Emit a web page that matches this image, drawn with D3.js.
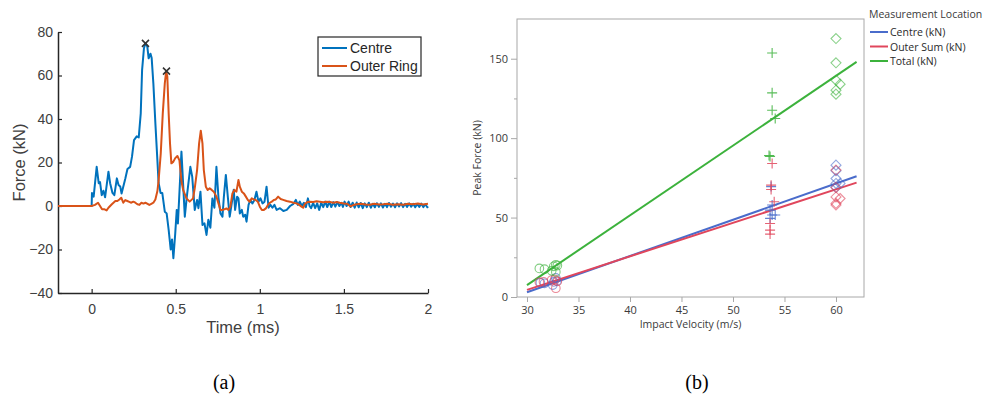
<!DOCTYPE html>
<html>
<head>
<meta charset="utf-8">
<script src="https://cdn.jsdelivr.net/npm/d3@7"></script>
<style>
  body { margin: 0; background: #fff; }
  svg { display: block; }
</style>
</head>
<body>
<svg id="fig" width="984" height="399"></svg>
<script>
// ---- (a) force traces, [time ms, force kN] ----
const centre = [
  [-0.2,0],[0,0],[0.002,6],[0.012,4.3],[0.03,18],[0.042,10.5],[0.05,11],[0.06,5],[0.07,7],[0.08,4],
  [0.1,15.8],[0.11,10.5],[0.124,6],[0.135,5],[0.15,12.7],[0.16,9.7],[0.17,9],[0.178,5.7],[0.2,12.5],
  [0.213,17],[0.229,18],[0.24,22.7],[0.252,30.3],[0.268,32],[0.28,31.5],[0.292,42.6],[0.3,62.5],
  [0.311,72.5],[0.32,74.8],[0.331,73.3],[0.339,67.9],[0.35,70],[0.357,68],[0.367,56.4],[0.379,38],
  [0.391,21],[0.398,10.7],[0.41,6],[0.42,6],[0.435,-2.6],[0.446,-3.4],[0.458,-11],[0.47,-20],
  [0.478,-15.4],[0.486,-24],[0.497,-12.7],[0.506,-1.8],[0.513,-8],[0.534,25],[0.554,-4.9],[0.566,4.3],
  [0.587,18],[0.598,13.5],[0.613,-1.8],[0.627,2.8],[0.635,-1],[0.647,6.6],[0.659,-8.7],[0.671,-8],
  [0.683,-13.3],[0.694,-6.3],[0.706,-10],[0.718,3.5],[0.73,-0.8],[0.742,18],[0.754,4],[0.766,-3.4],
  [0.778,-4.9],[0.786,4],[0.798,14.3],[0.81,4],[0.821,-4.9],[0.833,1.2],[0.845,7.5],[0.853,-1.8],
  [0.865,4.3],[0.873,3.5],[0.881,-3.4],[0.893,-1.8],[0.901,-4.9],[0.913,-4],[0.921,-7.2],[0.933,0.5],
  [0.944,2.8],[0.956,1.2],[0.968,2.8],[0.98,6.6],[0.992,2],[1.004,3.5],[1.016,1.2],[1.028,2],
  [1.04,8.9],[1.052,-0.8],[1.063,0.5],[1.075,-0.8],[1.087,0.5],[1.1,-1.8],[1.12,-1],[1.14,-2.3],
  [1.16,-1.8],[1.18,0],[1.2,1],[1.214,2.8],[1.226,0.5],[1.238,2],[1.25,0],[1.262,1.5],[1.274,-0.5],
  [1.286,3.5],[1.296,0],[1.305,-1],[1.317,1.5],[1.329,-1],[1.341,1.2],[1.353,-1.8],[1.365,1.5],
  [1.377,-0.5],[1.389,2],[1.401,-0.5],[1.413,2],[1.425,-0.5],[1.437,1.8],[1.449,-0.3],[1.461,1.8],
  [1.473,0],[1.485,1.5],[1.494,-0.4],[1.504,2],[1.516,0],[1.528,2],[1.54,-0.5],[1.552,1.5],
  [1.564,-0.8],[1.576,1.6],[1.588,-0.6],[1.6,1.4],[1.612,-1],[1.624,1.2],[1.636,-0.5],[1.648,1.5],
  [1.66,-0.8],[1.672,1],[1.684,-0.6],[1.696,1.3],[1.708,-0.4],[1.72,1.2],[1.732,-0.7],[1.744,1],
  [1.756,-0.5],[1.768,1.4],[1.78,-0.3],[1.792,1.1],[1.804,-0.6],[1.816,1.2],[1.828,-0.2],[1.84,1.3],
  [1.852,-0.5],[1.864,1],[1.876,-0.4],[1.888,1.2],[1.9,-0.3],[1.912,1],[1.924,-0.6],[1.936,0.9],
  [1.948,-0.4],[1.96,1.1],[1.972,-0.5],[1.984,0.8],[1.996,-0.6],[2,-0.2]
];

const outerRing = [
  [-0.2,0],[0,0],[0.02,0.5],[0.038,1.5],[0.05,0],[0.062,-1.5],[0.077,-1.5],[0.089,-2],[0.1,-0.8],
  [0.11,0],[0.12,0.8],[0.141,2.3],[0.153,2.3],[0.165,3],[0.176,3.8],[0.188,1.5],[0.2,2.7],[0.212,2.3],
  [0.224,1.9],[0.236,1.5],[0.248,2],[0.26,1.5],[0.272,0.8],[0.284,0.5],[0.296,1.5],[0.308,1.1],
  [0.32,1.5],[0.33,1.1],[0.343,0.5],[0.355,1],[0.367,1.5],[0.379,3],[0.391,6.9],[0.398,11.5],
  [0.411,24.2],[0.423,42.6],[0.435,56.4],[0.443,61.8],[0.45,59.5],[0.458,42.6],[0.466,28.8],
  [0.474,19.6],[0.486,20.4],[0.497,22],[0.51,23],[0.522,21],[0.534,11.5],[0.544,7.4],[0.564,3.5],
  [0.583,2],[0.603,3.5],[0.613,8.1],[0.627,16.5],[0.639,28.8],[0.649,34.6],[0.659,28.8],[0.667,16.5],
  [0.679,8.9],[0.69,7.4],[0.702,8.1],[0.714,7.4],[0.726,6.6],[0.742,4.3],[0.754,1.2],[0.766,-1.8],
  [0.778,-1.8],[0.79,-1.5],[0.802,-1.1],[0.813,-1.8],[0.825,-0.3],[0.837,5.8],[0.849,7.4],[0.861,6.6],
  [0.873,12],[0.881,8.9],[0.893,6.6],[0.905,5.8],[0.917,4.3],[0.929,2.8],[0.94,2],[0.952,3.5],
  [0.964,3],[0.976,2.8],[0.988,2],[1,-0.3],[1.012,-1.8],[1.024,-1.8],[1.036,-1.1],[1.048,0.5],
  [1.06,1.5],[1.071,2],[1.083,2.8],[1.095,3],[1.109,4.3],[1.124,3.2],[1.139,2.8],[1.159,2.3],
  [1.179,2],[1.2,1.5],[1.218,1.2],[1.235,0.5],[1.248,-0.3],[1.258,-0.8],[1.268,1],[1.283,1.8],
  [1.298,2],[1.318,1.8],[1.337,2.2],[1.357,2],[1.377,1.7],[1.397,2],[1.417,1.8],[1.437,1.5],
  [1.457,1.8],[1.476,1.5],[1.5,1.2],[1.52,1],[1.54,-0.2],[1.558,0.5],[1.575,0.8],[1.6,1],[1.63,0.7],
  [1.655,0.6],[1.68,1],[1.71,0.7],[1.734,0.8],[1.76,1],[1.79,0.6],[1.82,0.8],[1.853,0.6],[1.88,1],
  [1.91,0.8],[1.94,1.1],[1.97,0.7],[2,1]
];

const peaks = [[0.32, 74.8], [0.445, 62]];
const timeTicks = [0, 0.5, 1, 1.5, 2];
const forceTicks = [-40, -20, 0, 20, 40, 60, 80];

// ---- (b) peak force vs impact velocity, [m/s, kN] ----
const series = ['Centre (kN)', 'Outer Sum (kN)', 'Total (kN)'];
const seriesColors = ['#4a6ccb', '#e0465c', '#3cb23c'];

const circleData = [
  [[31.3,9],[31.7,8.6],[32.5,7.5],[32.8,12],[32.9,10],[32.6,9.5]],
  [[31.2,9.3],[31.6,9.6],[32.4,10.7],[32.7,11],[32.8,5.5],[32.95,9.8]],
  [[31.2,18],[31.7,17.5],[32.4,16.5],[32.8,15.8],[32.6,19.3],[32.8,20.3],[32.95,19.8]]
];
const plusData = [
  [[53.7,69.5],[53.8,57.9],[53.6,54.7],[53.8,51.6],[54.1,51.6],[53.6,49.5]],
  [[53.8,84],[53.7,70.4],[53.7,67.7],[54.0,60],[53.6,46.3],[53.6,42.1],[53.6,39.6]],
  [[53.8,153.6],[53.8,128.5],[53.8,117.6],[54.1,112.4],[53.5,89],[53.6,88.5]]
];
const diamondData = [
  [[60,83],[60,79.5],[60,74.6],[60,71.5],[60.4,71.5],[60,69]],
  [[60,79.9],[60,69],[60,63],[60.4,62],[60,58.9],[60,57.9]],
  [[60,162.7],[60,147.4],[60,136.5],[60.4,134],[60,130.2],[60,127.7]]
];
const fitVelocity = [30, 62];
const fitForce = [[3, 76], [4.5, 72], [7.5, 148]];
const velTicks = [30, 35, 40, 45, 50, 55, 60];
const peakTicks = [0, 50, 100, 150];
const peakMinor = [25, 75, 125];

const svg = d3.select('#fig');

// ================= panel (a) =================
const ax = d3.scaleLinear().domain([-0.2, 2]).range([58, 428]);
const ay = d3.scaleLinear().domain([-40, 80]).range([293, 32]);
const mFont = "'Liberation Sans', Arial, sans-serif";

const ga = svg.append('g');

const xa = ga.append('g')
  .attr('transform', `translate(0,${ay(-40)})`)
  .call(d3.axisBottom(ax).tickValues(timeTicks).tickFormat(d3.format('~g'))
    .tickSize(-4).tickSizeOuter(0).tickPadding(11));
const ya = ga.append('g')
  .attr('transform', `translate(${ax(-0.2)},0)`)
  .call(d3.axisLeft(ay).tickValues(forceTicks).tickSize(-4).tickSizeOuter(0).tickPadding(5));

[xa, ya].forEach(g => {
  g.select('.domain').attr('stroke', '#262626').attr('stroke-width', 1.5);
  g.selectAll('.tick line').attr('stroke', '#262626').attr('stroke-width', 1.2);
  g.selectAll('.tick text').attr('fill', '#404040').style('font-family', mFont).style('font-size', '14px');
});

const line = d3.line().x(d => ax(d[0])).y(d => ay(d[1]));

ga.append('path').datum(centre)
  .attr('d', line).attr('fill', 'none').attr('stroke', '#0072bd').attr('stroke-width', 2)
  .attr('stroke-linejoin', 'round');
ga.append('path').datum(outerRing)
  .attr('d', line).attr('fill', 'none').attr('stroke', '#d95319').attr('stroke-width', 2)
  .attr('stroke-linejoin', 'round');

// peak markers
peaks.forEach(p => {
  const cx = ax(p[0]), cy = ay(p[1]);
  ga.append('path')
    .attr('d', `M${cx - 3.5},${cy - 3.5}L${cx + 3.5},${cy + 3.5}M${cx - 3.5},${cy + 3.5}L${cx + 3.5},${cy - 3.5}`)
    .attr('stroke', '#333').attr('stroke-width', 1.6);
});

ga.append('text')
  .attr('x', (ax(-0.2) + ax(2)) / 2).attr('y', 333)
  .attr('text-anchor', 'middle')
  .style('font-family', mFont).style('font-size', '16.5px').attr('fill', '#404040')
  .text('Time (ms)');
ga.append('text')
  .attr('transform', `translate(25,${(ay(-40) + ay(80)) / 2}) rotate(-90)`)
  .attr('text-anchor', 'middle')
  .style('font-family', mFont).style('font-size', '16.5px').attr('fill', '#404040')
  .text('Force (kN)');

// legend (a)
const lg = ga.append('g').attr('transform', 'translate(318,37)');
lg.append('rect').attr('width', 103).attr('height', 39)
  .attr('fill', '#fff').attr('stroke', '#262626').attr('stroke-width', 1.2);
[['Centre', '#0072bd'], ['Outer Ring', '#d95319']].forEach((d, i) => {
  const yy = 11 + i * 18;
  lg.append('line').attr('x1', 4).attr('x2', 29).attr('y1', yy).attr('y2', yy)
    .attr('stroke', d[1]).attr('stroke-width', 2);
  lg.append('text').attr('x', 32).attr('y', yy + 5)
    .style('font-family', mFont).style('font-size', '14px').attr('fill', '#262626')
    .text(d[0]);
});

// ================= panel (b) =================
const bx = d3.scaleLinear().domain([29.03, 62.72]).range([517, 864]);
const by = d3.scaleLinear().domain([0, 175]).range([297, 19]);
const bFont = "'Open Sans', 'Noto Sans', sans-serif";
const gb = svg.append('g');

gb.append('rect')
  .attr('x', bx.range()[0]).attr('y', by.range()[1])
  .attr('width', bx.range()[1] - bx.range()[0]).attr('height', by.range()[0] - by.range()[1])
  .attr('fill', 'none').attr('stroke', '#a8a8a8').attr('stroke-width', 1);

const xb = gb.append('g')
  .attr('transform', `translate(0,${by(0)})`)
  .call(d3.axisBottom(bx).tickValues(velTicks).tickSize(5).tickSizeOuter(0).tickPadding(4));
const yb = gb.append('g')
  .attr('transform', `translate(${bx.range()[0]},0)`)
  .call(d3.axisLeft(by).tickValues(peakTicks).tickSize(6).tickSizeOuter(0).tickPadding(3));
gb.append('g')
  .attr('transform', `translate(${bx.range()[0]},0)`)
  .call(d3.axisLeft(by).tickValues(peakMinor).tickSize(3).tickFormat(''))
  .call(g => g.select('.domain').remove())
  .selectAll('.tick line').attr('stroke', '#a8a8a8');
[xb, yb].forEach(g => {
  g.select('.domain').remove();
  g.selectAll('.tick line').attr('stroke', '#a8a8a8');
  g.selectAll('.tick text').attr('fill', '#3a3a3a').style('font-family', bFont).style('font-size', '11px');
});

// fit lines
series.forEach((s, i) => {
  gb.append('line')
    .attr('x1', bx(fitVelocity[0])).attr('y1', by(fitForce[i][0]))
    .attr('x2', bx(fitVelocity[1])).attr('y2', by(fitForce[i][1]))
    .attr('stroke', seriesColors[i]).attr('stroke-width', 2);
});

// markers
series.forEach((s, i) => {
  const c = seriesColors[i];
  gb.selectAll(null).data(circleData[i]).enter().append('circle')
    .attr('cx', d => bx(d[0])).attr('cy', d => by(d[1])).attr('r', 4.3)
    .attr('fill', 'none').attr('stroke', c).attr('stroke-opacity', 0.65).attr('stroke-width', 1.1);
  gb.selectAll(null).data(plusData[i]).enter().append('path')
    .attr('d', d => {
      const px = bx(d[0]), py = by(d[1]);
      return `M${px - 5},${py}H${px + 5}M${px},${py - 5}V${py + 5}`;
    })
    .attr('stroke', c).attr('stroke-opacity', 0.85).attr('stroke-width', 1.1);
  gb.selectAll(null).data(diamondData[i]).enter().append('path')
    .attr('d', d => {
      const px = bx(d[0]), py = by(d[1]);
      return `M${px},${py - 5}L${px + 5},${py}L${px},${py + 5}L${px - 5},${py}Z`;
    })
    .attr('fill', 'none').attr('stroke', c).attr('stroke-opacity', 0.6).attr('stroke-width', 1.1);
});

gb.append('text')
  .attr('x', (bx.range()[0] + bx.range()[1]) / 2).attr('y', 328)
  .attr('text-anchor', 'middle')
  .style('font-family', bFont).style('font-size', '10.5px').attr('fill', '#3a3a3a')
  .text('Impact Velocity (m/s)');
gb.append('text')
  .attr('transform', `translate(481,${(by(0) + by(175)) / 2}) rotate(-90)`)
  .attr('text-anchor', 'middle')
  .style('font-family', bFont).style('font-size', '10.5px').attr('fill', '#3a3a3a')
  .text('Peak Force (kN)');

// legend (b)
const lb = gb.append('g').attr('transform', 'translate(869,0)');
lb.append('text').attr('x', 0).attr('y', 18)
  .style('font-family', bFont).style('font-size', '10.5px').attr('fill', '#3a3a3a')
  .text('Measurement Location');
series.forEach((s, i) => {
  const yy = 32 + i * 14.5;
  lb.append('line').attr('x1', 1).attr('x2', 19).attr('y1', yy).attr('y2', yy)
    .attr('stroke', seriesColors[i]).attr('stroke-width', 2);
  lb.append('text').attr('x', 21).attr('y', yy + 4)
    .style('font-family', bFont).style('font-size', '10.5px').attr('fill', '#2a2a2a')
    .text(s);
});

// captions
const capFont = "'Liberation Serif', 'Times New Roman', serif";
svg.append('text').attr('x', 224).attr('y', 389).attr('text-anchor', 'middle')
  .style('font-family', capFont).style('font-size', '20px').attr('fill', '#000').text('(a)');
svg.append('text').attr('x', 697).attr('y', 389).attr('text-anchor', 'middle')
  .style('font-family', capFont).style('font-size', '20px').attr('fill', '#000').text('(b)');
</script>
</body>
</html>
